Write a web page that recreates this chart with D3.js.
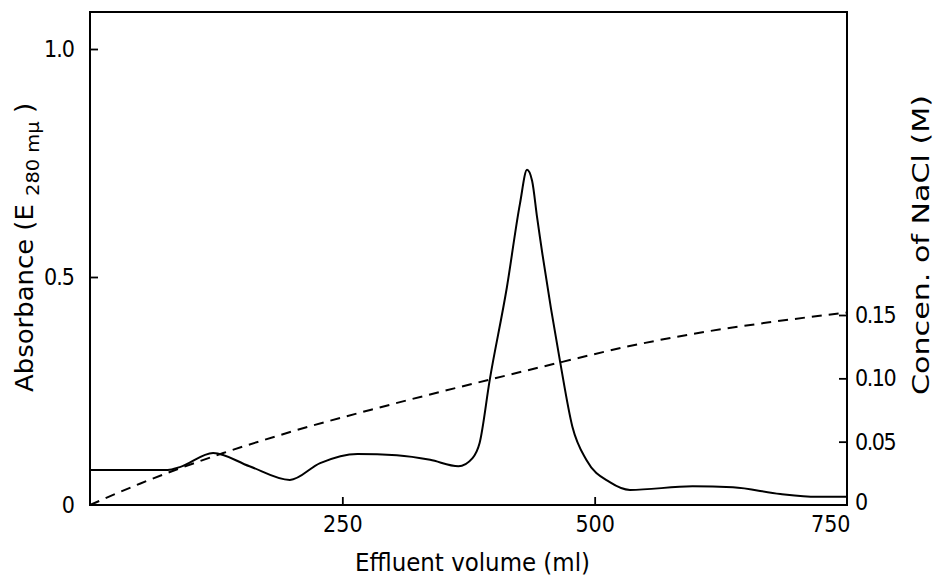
<!DOCTYPE html>
<html><head><meta charset="utf-8">
<script src="https://cdn.jsdelivr.net/npm/d3@7/dist/d3.min.js"></script>
<style>body{margin:0;background:#fff}</style></head>
<body><svg id="c" width="935" height="577"></svg>
<script>
// Absorbance curve (E 280 mμ) vs effluent volume (ml)
const absVolume = [0, 77, 89, 122, 158, 198, 228, 265, 304, 337, 365, 379, 386, 396, 413, 426, 433, 438, 443, 466, 478, 492, 515, 535, 597, 637, 684, 720, 750];
const absValue  = [0.077, 0.077, 0.083, 0.114, 0.085, 0.055, 0.092, 0.112, 0.109, 0.099, 0.085, 0.103, 0.136, 0.274, 0.477, 0.661, 0.735, 0.711, 0.630, 0.311, 0.171, 0.098, 0.050, 0.033, 0.041, 0.039, 0.024, 0.018, 0.018];
// NaCl concentration gradient (M)
const naclVolume = [0, 50, 132, 200, 287, 396, 468, 532, 604, 671, 750];
const naclValue  = [0, 0.017, 0.041, 0.058, 0.077, 0.099, 0.113, 0.125, 0.136, 0.144, 0.152];
// Tick labels
const xTicks = [250, 500, 750];
const yLeftTicks = [0, 0.5, 1.0];
const yLeftLabels = ["0", "0.5", "1.0"];
const yRightTicks = [0, 0.05, 0.10, 0.15];
const yRightLabels = ["0", "0.05", "0.10", "0.15"];

const L = 90, R = 847, T = 12, B = 505;
const svg = d3.select("#c");
const font = "'DejaVu Sans Condensed','DejaVu Sans',sans-serif";

const x = d3.scaleLinear().domain([0, 750]).range([L, R]);
const yL = d3.scaleLinear().domain([0, 1]).range([B, 49]);
const yR = d3.scaleLinear().domain([0, 0.15]).range([B, 315]);

// frame
svg.append("rect").attr("x", L).attr("y", T).attr("width", R - L).attr("height", B - T)
  .attr("fill", "none").attr("stroke", "#000").attr("stroke-width", 2);

function styleAxis(g, ls) {
  g.select(".domain").remove();
  g.selectAll(".tick line").attr("stroke", "#000").attr("stroke-width", 1.8);
  g.selectAll(".tick text").attr("fill", "#000").style("font-family", font)
    .style("font-size", "23px").style("letter-spacing", ls);
}

// bottom axis
const gx = svg.append("g").attr("transform", `translate(0,${B})`)
  .call(d3.axisBottom(x).tickValues(xTicks).tickSize(-8).tickPadding(11).tickFormat(d3.format("d")));
styleAxis(gx, "0px");
gx.selectAll(".tick line").filter(d => d === 750).remove();
gx.selectAll(".tick text").filter(d => d === 750).attr("text-anchor", "end").attr("x", 3);

// left axis
const gl = svg.append("g").attr("transform", `translate(${L},0)`)
  .call(d3.axisLeft(yL).tickValues(yLeftTicks).tickSize(-8).tickPadding(16).tickFormat((d, i) => yLeftLabels[i]));
styleAxis(gl, "-1px");
gl.selectAll(".tick line").filter(d => d === 0).remove();

// right axis
const gr = svg.append("g").attr("transform", `translate(${R},0)`)
  .call(d3.axisRight(yR).tickValues(yRightTicks).tickSize(-8).tickPadding(8).tickFormat((d, i) => yRightLabels[i]));
styleAxis(gr, "-1.5px");
gr.selectAll(".tick line").filter(d => d === 0).remove();
gr.selectAll(".tick text").filter(d => d === 0).attr("dy", "0.2em");

// lines
const absData = absVolume.map((v, i) => [v, absValue[i]]);
const naclData = naclVolume.map((v, i) => [v, naclValue[i]]);

svg.append("path").datum(naclData)
  .attr("d", d3.line().x(d => x(d[0])).y(d => yR(d[1])).curve(d3.curveMonotoneX))
  .attr("fill", "none").attr("stroke", "#000").attr("stroke-width", 2).attr("stroke-dasharray", "10,7");

svg.append("path").datum(absData)
  .attr("d", d3.line().x(d => x(d[0])).y(d => yL(d[1])).curve(d3.curveMonotoneX))
  .attr("fill", "none").attr("stroke", "#000").attr("stroke-width", 2);

// axis titles
svg.append("text").attr("x", 355).attr("y", 571)
  .attr("textLength", 235).attr("lengthAdjust", "spacingAndGlyphs")
  .style("font-family", font).style("font-size", "25px")
  .text("Effluent volume (ml)");

const lt = svg.append("text").attr("transform", "translate(33,392) rotate(-90)")
  .attr("textLength", 289).attr("lengthAdjust", "spacingAndGlyphs")
  .style("font-family", font).style("font-size", "24px");
lt.append("tspan").text("Absorbance (E ");
lt.append("tspan").attr("dy", 6).style("font-size", "18px").text("280 mμ");
lt.append("tspan").attr("dy", -6).text(" )");

svg.append("text").attr("transform", "translate(929,395) rotate(-90)")
  .attr("textLength", 300).attr("lengthAdjust", "spacingAndGlyphs")
  .style("font-family", font).style("font-size", "23px")
  .text("Concen. of NaCl (M)");
</script></body></html>
